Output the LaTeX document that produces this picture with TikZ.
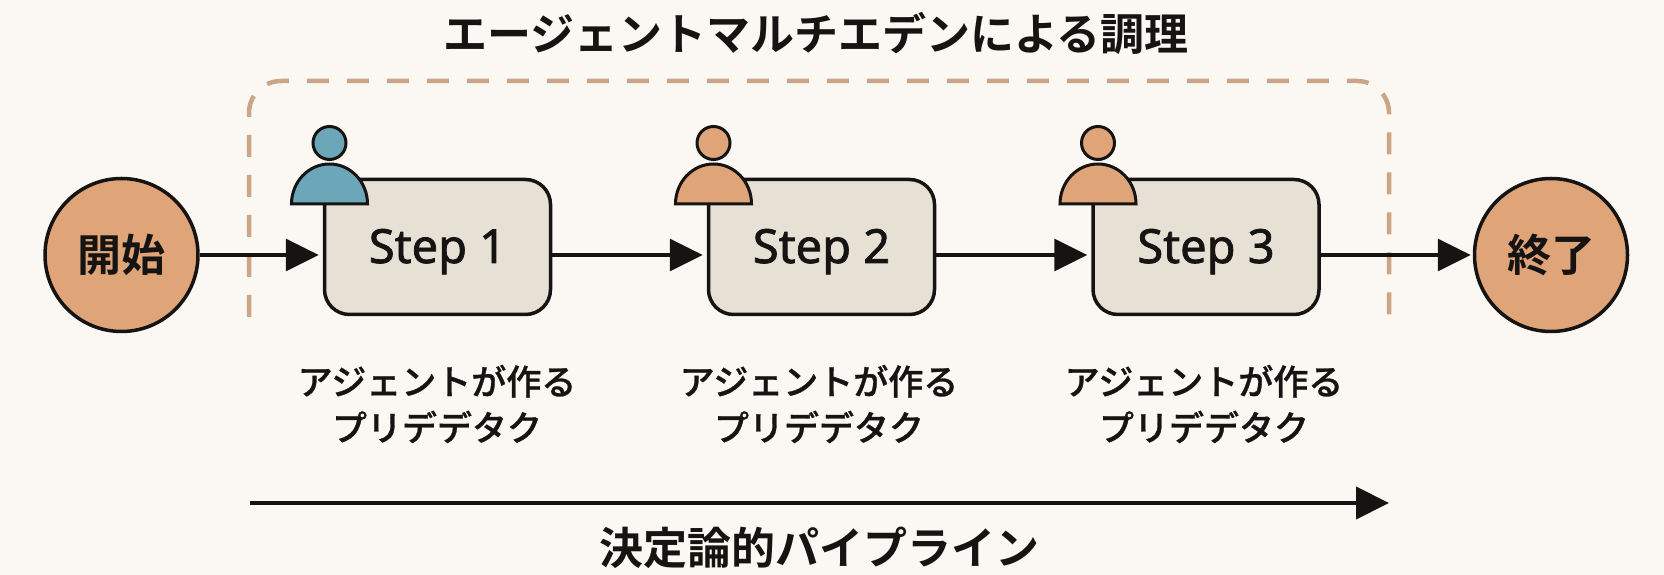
\documentclass[tikz,border=0pt]{standalone}
\usepackage{fontspec}
\usepackage{tikz}
\usetikzlibrary{arrows.meta}
\setmainfont{Noto Sans}
\newfontfamily\jpfont{Noto Sans CJK JP}[BoldFont={Noto Sans CJK JP Bold}]
\newfontfamily\jpmedium{Noto Sans CJK JP Medium}[FakeBold=0.8]
\newfontfamily\stepfont{Noto Sans}[FakeBold=1.6]
\definecolor{paper}{HTML}{FBF8F4}
\definecolor{ink}{HTML}{161412}
\definecolor{clay}{HTML}{DFA478}
\definecolor{sand}{HTML}{E7E0D5}
\definecolor{teal}{HTML}{6BA6B9}
\definecolor{dashtan}{HTML}{CBA585}
\begin{document}
\begin{tikzpicture}
[x=1pt,y=1pt,
  enddecorate/.style={shape=circle,inner sep=0pt,minimum size=153pt,draw=ink,line width=3.5pt,fill=clay,
    font=\jpfont\bfseries\fontsize{44}{50}\selectfont,text=ink},%
  stepdecorate/.style={shape=rectangle,rounded corners=25pt,inner sep=0pt,minimum width=226pt,minimum height=135pt,
    draw=ink,line width=3.5pt,fill=sand,font=\stepfont\fontsize{47}{50}\selectfont,text=ink},%
  headdecorate/.style={shape=circle,inner sep=0pt,minimum size=33pt,draw=ink,line width=3pt},%
  bodydecorate/.style={draw=ink,line width=3pt},%
  linedecorate/.style={-{Triangle[length=33pt,width=32pt]},line width=3.5pt,draw=ink,shorten >=4pt},%
  notedecorate/.style={inner sep=0pt,align=center,text=ink,font=\jpmedium\fontsize{35}{46}\selectfont},%
  headingdecorate/.style={inner sep=0pt,text=ink,font=\jpfont\bfseries\fontsize{44}{50}\selectfont}]
\fill[paper] (0,0) rectangle (1664,575);
%% dashed frame, open at the bottom
\draw[dashtan,line width=4.5pt,dash pattern=on 22pt off 18pt,rounded corners=32pt]
  (249,258) -- (249,494) -- (1389,494) -- (1389,258);
%% nodes or vertices
\node (start) at (121.5,320) [enddecorate] {開始};
\node (finish) at (1551,320) [enddecorate] {終了};
\foreach \nodename/\x/\labelx/\tone in {1/437.5/437/teal, 2/821.5/819/clay, 3/1206/1204/clay}
{
  \node (step\nodename) at (\x,328) [stepdecorate] {\raisebox{-16pt}[0pt][0pt]{Step \nodename}};
  \node (note\nodename) at (\labelx,171) [notedecorate] {アジェントが作る\\プリデデタク};
  \node (head\nodename) at (\x-108,432) [headdecorate,fill=\tone] {};
  \draw[bodydecorate,fill=\tone] (\x-146,371) arc[start angle=180,end angle=0,x radius=38,y radius=40] -- cycle;
}
\node (title) at (816,542) [headingdecorate] {エージェントマルチエデンによる調理};
\node (pipeline) at (819,27) [headingdecorate] {決定論的パイプライン};
\coordinate (pipefrom) at (250,72);
\coordinate (pipeto) at (1389,72);
%% edges or lines
\draw[linedecorate] (start) -- (step1.west |- start);
\draw[linedecorate] (step1.east |- start) -- (step2.west |- start);
\draw[linedecorate] (step2.east |- start) -- (step3.west |- start);
\draw[linedecorate,shorten >=2pt] (step3.east |- start) -- (finish);
\draw[linedecorate,shorten >=0pt,line width=4pt] (pipefrom) -- (pipeto);
\end{tikzpicture}
\end{document}
